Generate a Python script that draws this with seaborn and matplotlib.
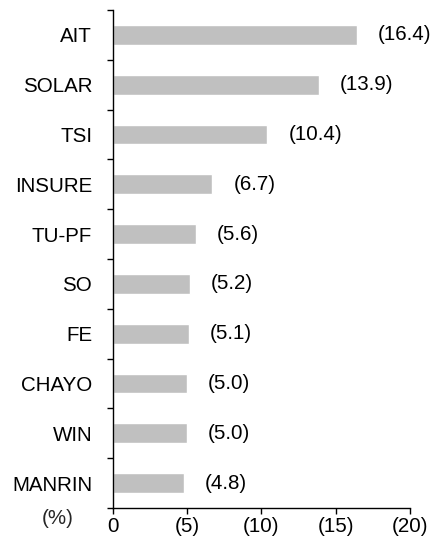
import pandas as pd
import matplotlib
matplotlib.use("Agg")
import matplotlib.pyplot as plt
import seaborn as sns
import numpy as np

companies = ["AIT", "SOLAR", "TSI", "INSURE", "TU-PF", "SO", "FE", "CHAYO", "WIN", "MANRIN"]
declines = [16.4, 13.9, 10.4, 6.7, 5.6, 5.2, 5.1, 5.0, 5.0, 4.8]
x_ticks = [0, 5, 10, 15, 20]
x_tick_labels = ["0", "(5)", "(10)", "(15)", "(20)"]

df = pd.DataFrame({"company": companies, "decline": declines})

sns.set_style("white")
plt.rcParams["font.family"] = ["Liberation Sans", "DejaVu Sans"]
FS = 14.8

fig = plt.figure(figsize=(4.38, 5.40), dpi=100)
ax = fig.add_axes([0.258, 0.0593, 0.678, 0.9222])

sns.barplot(data=df, x="decline", y="company", orient="h", color="#C0C0C0",
            width=0.4, saturation=1, ax=ax)

# value labels in parentheses
for i, v in enumerate(declines):
    ax.annotate(f"({v:.1f})", xy=(v, i), xytext=(15, 0), textcoords="offset points",
                ha="left", va="center", fontsize=FS, color="black")

ax.set_xlim(0, 20)
ax.set_ylim(len(companies) - 0.5, -0.5)
ax.set_xticks(x_ticks)
ax.set_xticklabels(x_tick_labels)
ax.set_yticks(np.arange(len(companies)))
ax.set_yticks(np.arange(len(companies) + 1) - 0.5, minor=True)
ax.tick_params(axis="both", which="both", left=True, bottom=True, colors="black",
               labelsize=FS, labelcolor="black")
ax.tick_params(axis="y", which="major", length=0, pad=15)
ax.tick_params(axis="y", which="minor", length=4.5, width=1, direction="out")
ax.tick_params(axis="x", which="major", length=4.5, width=1, direction="out", pad=2)
ax.set_xlabel("")
ax.set_ylabel("")

sns.despine(ax=ax, top=True, right=True)
for side in ["left", "bottom"]:
    ax.spines[side].set_color("black")
    ax.spines[side].set_linewidth(1)

ax.text(-0.185, -0.022, "(%)", transform=ax.transAxes, ha="center", va="center", fontsize=FS)

fig.savefig("out.png", dpi=100)
